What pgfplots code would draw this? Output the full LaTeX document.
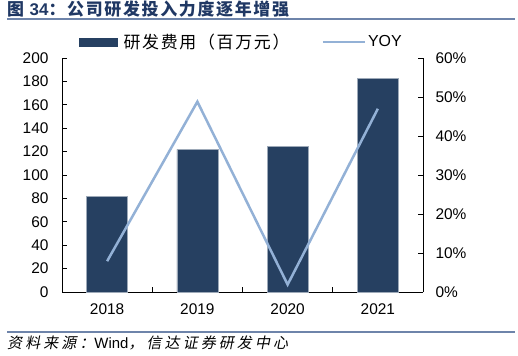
\documentclass[border=0pt]{standalone}
\usepackage{fontspec}
\setmainfont{Liberation Sans}
\newfontfamily\cjk{Noto Sans CJK SC}
\newfontfamily\cjkt{Noto Sans CJK SC}[LetterSpace=10]
\newfontfamily\cjki{Noto Sans CJK SC}[FakeSlant=0.2,LetterSpace=21]
\usepackage{pgfplots}
\pgfplotsset{compat=1.18}
\definecolor{barblue}{RGB}{38,64,97}
\definecolor{lineblue}{RGB}{147,177,214}
\definecolor{titleblue}{RGB}{32,56,100}
\definecolor{rulecol}{RGB}{110,132,170}
\begin{document}
\begin{tikzpicture}
\begin{axis}[at={(62bp,64bp)}, anchor=south west, width=361bp, height=234bp, scale only axis,
  xmin=-0.5, xmax=3.5, ymin=0, ymax=200,
  axis x line*=bottom, axis y line*=left,
  axis line style={black, line width=0.8bp},
  xtick={-0.5,0.5,1.5,2.5,3.5}, x tick label as interval,
  xticklabels={2018,2019,2020,2021},
  ytick={0,20,...,200},
  tick align=inside, major tick length=5bp,
  tick style={black, line width=0.8bp},
  /pgf/number format/assume math mode=true,
  tick label style={font=\fontsize{15.5}{15.5}\selectfont},
  yticklabel style={xshift=-10bp},
  xticklabel style={yshift=-8bp},
  clip=false]
\addplot[ybar, bar width=41bp, fill=barblue, draw=barblue!45!white, line width=0.6bp]
  coordinates {(0,82) (1,122) (2,124.2) (3,182.9)};
\end{axis}

\begin{axis}[at={(62bp,64bp)}, anchor=south west, width=361bp, height=234bp, scale only axis,
  xmin=-0.5, xmax=3.5, ymin=0, ymax=60,
  axis y line*=right, axis x line=none,
  axis line style={black, line width=0.8bp},
  ytick={0,10,...,60},
  yticklabel={\pgfmathprintnumber{\tick}\%},
  tick align=inside, major tick length=5bp,
  tick style={black, line width=0.8bp},
  /pgf/number format/assume math mode=true,
  tick label style={font=\fontsize{15.5}{15.5}\selectfont},
  yticklabel style={xshift=9bp},
  legend style={at={(0.047,1.068)}, anchor=west, draw=none, fill=none, inner sep=0pt,
    font=\fontsize{16}{16}\selectfont, legend columns=2,
    /tikz/every even column/.append style={column sep=30bp}},
  clip=false]
\addlegendimage{legend image code/.code={\fill[barblue] (0bp,-4bp) rectangle (38bp,4bp);}}
\addlegendentry{\hspace*{4bp}{\cjkt\fontsize{17}{17}\selectfont 研发费用（百万元）}}
\addplot[lineblue, line width=2.5bp, mark=none,
  legend image code/.code={\draw[lineblue, line width=2.5bp] (0bp,0bp) -- (42bp,0bp);}]
  coordinates {(0,7.9) (1,48.8) (2,1.9) (3,47.0)};
\addlegendentry{YOY}
\end{axis}

\node[anchor=west, inner sep=0, text=titleblue, font=\fontsize{17}{17}\selectfont\bfseries] at (7bp,346.5bp) {{\cjkt 图 }34{\cjkt ：公司研发投入力度逐年增强}};
\draw[rulecol, line width=1.3bp] (7bp,337bp) -- (515bp,337bp);
\draw[rulecol, line width=1.3bp] (7bp,24bp) -- (515bp,24bp);
\node[anchor=west, inner sep=0, font=\fontsize{15}{15}\selectfont] at (7bp,13bp) {{\cjki 资料来源：}Wind{\cjki ，信达证券研发中心}};
\pgfresetboundingbox
\useasboundingbox (0bp,0bp) rectangle (518bp,356bp);
\end{tikzpicture}
\end{document}
